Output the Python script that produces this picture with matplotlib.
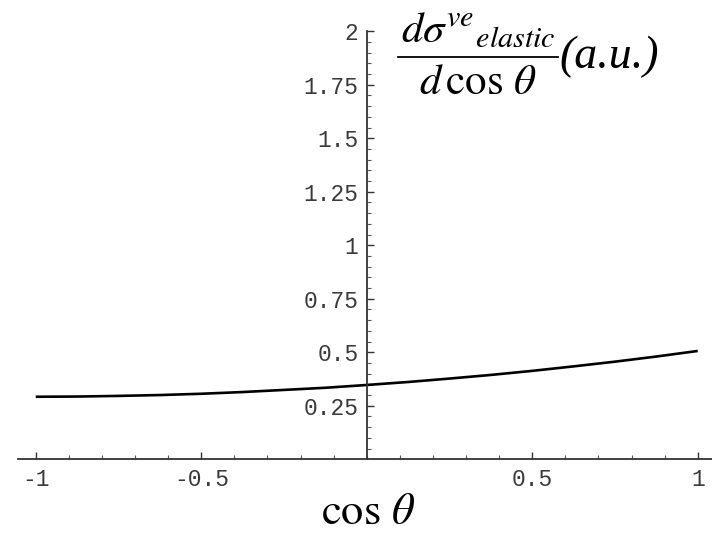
import numpy as np
import matplotlib
matplotlib.use("Agg")
import matplotlib.pyplot as plt
from matplotlib.ticker import FixedLocator
from matplotlib.lines import Line2D

# Data
cos_theta = [-1, -0.875, -0.75, -0.625, -0.5, -0.375, -0.25, -0.125, 0,
             0.125, 0.25, 0.375, 0.5, 0.625, 0.75, 0.875, 1]
dsigma = [0.292, 0.293, 0.296, 0.300, 0.306, 0.314, 0.324, 0.334, 0.347,
          0.361, 0.377, 0.394, 0.413, 0.434, 0.456, 0.480, 0.506]
x_ticks = [-1, -0.5, 0.5, 1]
x_tick_labels = ["-1", "-0.5", "0.5", "1"]
y_ticks = [0.25, 0.5, 0.75, 1, 1.25, 1.5, 1.75, 2]
y_tick_labels = ["0.25", "0.5", "0.75", "1", "1.25", "1.5", "1.75", "2"]

plt.rcParams['mathtext.fontset'] = 'stix'

fig = plt.figure(figsize=(7.12, 5.35), dpi=100)
ax = fig.add_axes([0, 0, 1, 1])
ax.set_xlim(-1.108, 1.043)
ax.set_ylim(-0.354, 2.146)

ax.plot(cos_theta, dsigma, color='black', lw=1.9, solid_capstyle='butt')

for s in ['top', 'right']:
    ax.spines[s].set_visible(False)
ax.spines['bottom'].set_position(('data', 0))
ax.spines['left'].set_position(('data', 0))
ax.spines['bottom'].set_bounds(-1.054, 1.043)
ax.spines['left'].set_bounds(0, 2)
for s in ['bottom', 'left']:
    ax.spines[s].set_color('#333333')
    ax.spines[s].set_linewidth(1.3)

x_minor = [round(v, 2) for v in np.arange(-1.0, 1.001, 0.1)]
y_minor = [round(v, 2) for v in np.arange(0.05, 2.001, 0.05)]

ax.xaxis.set_major_locator(FixedLocator(x_ticks))
ax.set_xticklabels(x_tick_labels)
ax.xaxis.set_minor_locator(FixedLocator(x_minor))
ax.yaxis.set_major_locator(FixedLocator(y_ticks))
ax.set_yticklabels(y_tick_labels)
ax.yaxis.set_minor_locator(FixedLocator(y_minor))

ax.tick_params(axis='both', which='major', direction='in', length=5,
               width=1.0, color='#333333', labelsize=16.5, labelcolor='#3a3a3a')
ax.tick_params(axis='both', which='minor', direction='in', length=2.8,
               width=0.8, color='#555555')
ax.tick_params(axis='x', which='major', pad=6)
ax.tick_params(axis='y', which='major', pad=6)
for lab in ax.get_xticklabels() + ax.get_yticklabels():
    lab.set_family('Liberation Mono')

# x label
fig.text(368 / 712, 1 - 512 / 535, r'$\cos\,\theta$', fontsize=32,
         ha='center', va='center', color='black')

# y label as a hand-built fraction
cx = 478 / 712
fig.text(cx, 1 - 30 / 535, r'$d\sigma^{ve}{}_{elastic}$', fontsize=31,
         ha='center', va='center', color='black')
fig.text(cx, 1 - 82 / 535, r'$d\,\cos\,\theta$', fontsize=31,
         ha='center', va='center', color='black')
fig.add_artist(Line2D([398 / 712, 558 / 712], [1 - 57 / 535, 1 - 57 / 535],
                      transform=fig.transFigure, color='black', lw=1.3))
fig.text(559 / 712, 1 - 57 / 535, '(a.u.)', fontsize=33,
         family='Liberation Serif', style='italic',
         ha='left', va='center', color='black')

fig.savefig('out.png', dpi=100)
